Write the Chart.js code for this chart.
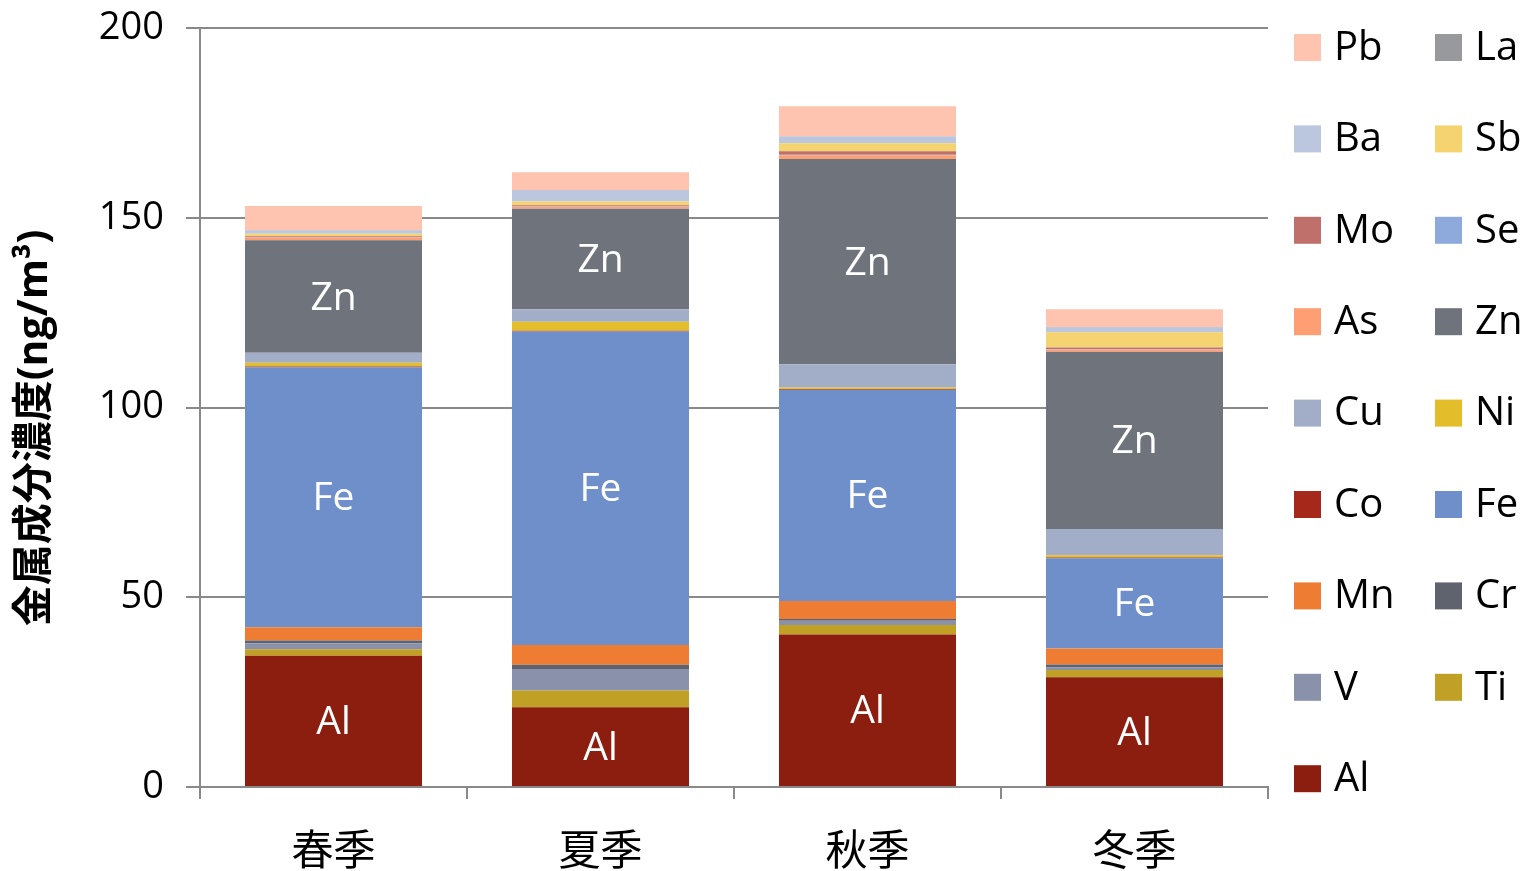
<!DOCTYPE html>
<html>
<head>
<meta charset="utf-8">
<script src="https://cdn.jsdelivr.net/npm/chart.js@4/dist/chart.umd.min.js"></script>
<style>
  html, body { margin: 0; padding: 0; background: #fff; }
  #wrap { width: 1525px; height: 871px; }
</style>
</head>
<body>
<div id="wrap"><canvas id="grafico" width="1525" height="871"></canvas></div>
<script>
// estaciones
const estaciones = ['春季', '夏季', '秋季', '冬季'];

// concentracion de cada metal (ng/m3), de abajo hacia arriba
const Al = [34.6, 21.0, 40.2, 28.9];
const Ti = [1.7, 4.4, 2.5, 1.9];
const V  = [1.6, 5.7, 1.1, 0.7];
const Cr = [0.7, 1.1, 0.5, 0.8];
const Mn = [3.5, 5.2, 4.7, 4.2];
const Fe = [68.5, 82.6, 55.7, 23.8];
const Co = [0.2, 0.2, 0.2, 0.2];
const Ni = [1.0, 2.4, 0.4, 0.6];
const Cu = [2.6, 3.3, 6.1, 6.9];
const Zn = [29.7, 26.5, 54.1, 46.7];
const As = [0.7, 0.5, 1.0, 0.6];
const Se = [0.1, 0.1, 0.1, 0.1];
const Mo = [0.2, 0.3, 0.9, 0.4];
const Sb = [0.7, 1.0, 2.1, 4.0];
const Ba = [0.9, 2.9, 1.8, 1.3];
const La = [0.1, 0.1, 0.1, 0.1];
const Pb = [6.3, 4.7, 7.9, 4.7];

const ticksY = [0, 50, 100, 150, 200];

const tituloY = '金属成分濃度(ng/m³)';

const metales = [
  ['Al', Al, '#8B1E0E'],
  ['Ti', Ti, '#C0A025'],
  ['V',  V,  '#8A92AB'],
  ['Cr', Cr, '#5E636E'],
  ['Mn', Mn, '#EE7D33'],
  ['Fe', Fe, '#6E8FCA'],
  ['Co', Co, '#A5281B'],
  ['Ni', Ni, '#E4BE2A'],
  ['Cu', Cu, '#A2AEC7'],
  ['Zn', Zn, '#6F737C'],
  ['As', As, '#FF9E72'],
  ['Se', Se, '#8EAADC'],
  ['Mo', Mo, '#C0706A'],
  ['Sb', Sb, '#F5D371'],
  ['Ba', Ba, '#BBC6DF'],
  ['La', La, '#98999D'],
  ['Pb', Pb, '#FFC4B0']
];

// metales que llevan su nombre dentro de la barra
const conEtiqueta = ['Al', 'Fe', 'Zn'];

const fuente = "'Open Sans', 'Noto Sans CJK JP', sans-serif";

// nombres blancos centrados en los segmentos grandes
const etiquetasBarras = {
  id: 'etiquetasBarras',
  afterDatasetsDraw(chart) {
    const ctx = chart.ctx;
    ctx.save();
    ctx.fillStyle = '#ffffff';
    ctx.font = '39px ' + fuente;
    ctx.textAlign = 'center';
    ctx.textBaseline = 'middle';
    chart.data.datasets.forEach((ds, i) => {
      if (!conEtiqueta.includes(ds.label)) return;
      chart.getDatasetMeta(i).data.forEach(barra => {
        const p = barra.getProps(['x', 'y', 'base'], true);
        ctx.fillText(ds.label, p.x, (p.y + p.base) / 2 + 2);
      });
    });
    ctx.restore();
  }
};

// titulo vertical del eje y
const tituloEjeY = {
  id: 'tituloEjeY',
  afterDraw(chart) {
    const ctx = chart.ctx;
    ctx.save();
    ctx.translate(35, 428);
    ctx.rotate(-Math.PI / 2);
    ctx.font = 'bold 41px ' + fuente;
    ctx.fillStyle = '#000000';
    ctx.textAlign = 'center';
    ctx.textBaseline = 'middle';
    ctx.fillText(tituloY, 0, 0);
    ctx.restore();
  }
};

// leyenda en dos columnas, orden inverso al de apilado
const leyenda = {
  id: 'leyenda',
  afterDraw(chart) {
    const ctx = chart.ctx;
    const items = chart.data.datasets.slice().reverse();
    ctx.save();
    ctx.font = '40px ' + fuente;
    ctx.textBaseline = 'middle';
    ctx.textAlign = 'left';
    items.forEach((ds, k) => {
      const fila = Math.floor(k / 2);
      const col = k % 2;
      const x = 1294 + col * 141;
      const y = 47.5 + fila * 91.4;
      ctx.fillStyle = ds.backgroundColor;
      ctx.fillRect(x, y - 13.5, 27, 27);
      ctx.fillStyle = '#000000';
      ctx.fillText(ds.label, x + 40, y + 1);
    });
    ctx.restore();
  }
};

new Chart('grafico', {
  type: 'bar',
  data: {
    labels: estaciones,
    datasets: metales.map(m => ({
      label: m[0],
      data: m[1],
      backgroundColor: m[2],
      borderWidth: 0,
      barPercentage: 0.663,
      categoryPercentage: 1
    }))
  },
  options: {
    responsive: false,
    animation: false,
    layout: { padding: { top: 28, right: 257, left: 0, bottom: 0 } },
    plugins: {
      legend: { display: false },
      tooltip: { enabled: false }
    },
    scales: {
      x: {
        stacked: true,
        afterFit: s => { s.height = 84; },
        grid: {
          offset: true,
          drawOnChartArea: false,
          color: '#898989',
          lineWidth: 2,
          tickLength: 12
        },
        border: { color: '#898989', width: 2 },
        ticks: {
          color: '#000000',
          font: { family: fuente, size: 42 },
          padding: 29
        }
      },
      y: {
        stacked: true,
        min: 0,
        max: 200,
        afterFit: s => { s.width = 200; s.paddingTop = 0; s.paddingBottom = 0; },
        afterBuildTicks: s => { s.ticks = ticksY.map(v => ({ value: v })); },
        grid: {
          color: '#898989',
          lineWidth: 2,
          tickLength: 14
        },
        border: { color: '#898989', width: 2 },
        ticks: {
          color: '#000000',
          font: { family: fuente, size: 38 },
          padding: 22
        }
      }
    }
  },
  plugins: [etiquetasBarras, tituloEjeY, leyenda]
});
</script>
</body>
</html>
